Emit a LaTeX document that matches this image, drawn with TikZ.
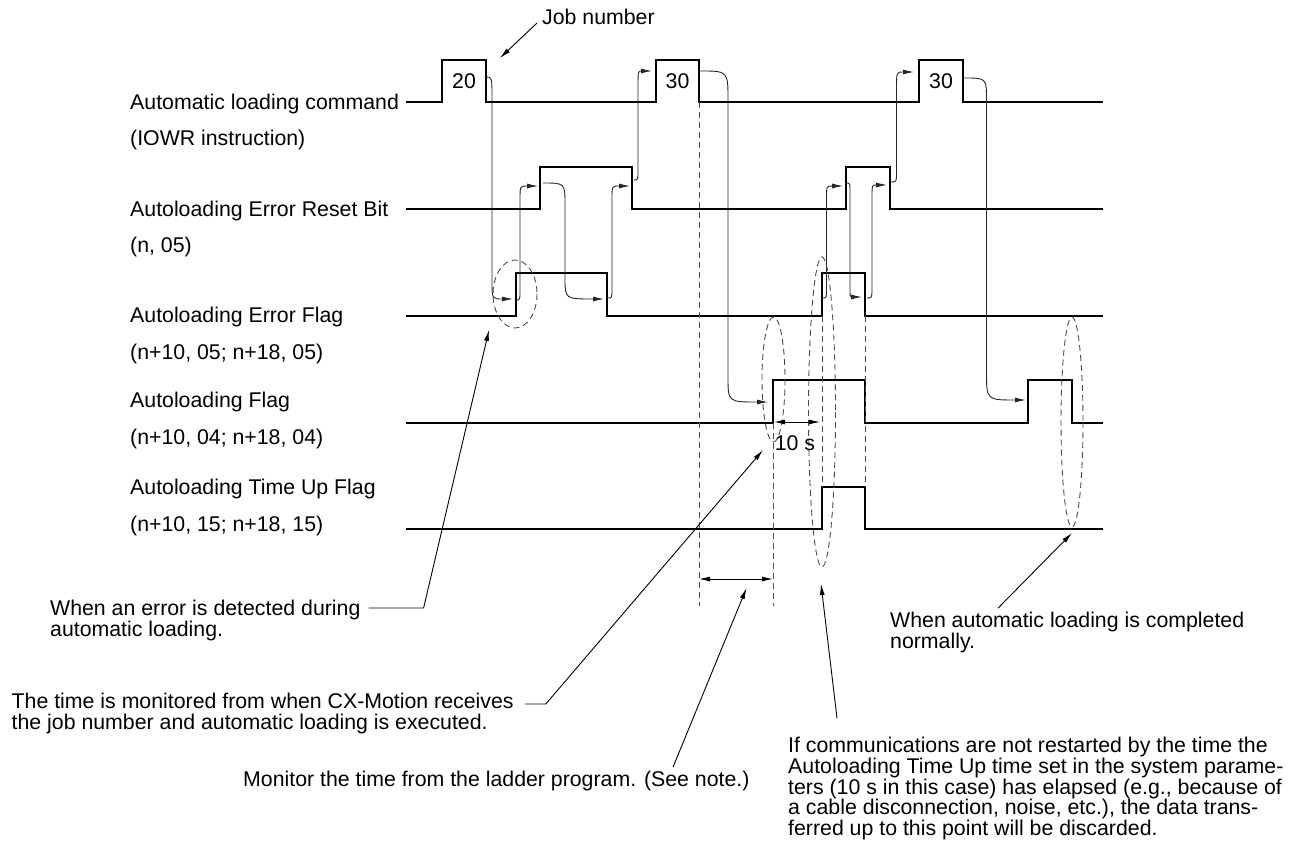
\documentclass[tikz,border=0pt]{standalone}
\usepackage{fontspec}
\setmainfont{Liberation Sans}
\usetikzlibrary{arrows.meta}

\begin{document}
\begin{tikzpicture}[
  x=1pt,y=-1pt,
  >={Latex[length=11pt,width=5pt]},
  sig/.style={line width=2.2pt,line join=miter},
  flow/.style={->,line width=0.9pt,black!85},
  guide/.style={dash pattern=on 6pt off 4pt,line width=0.9pt,black!70},
  lead/.style={->,line width=0.9pt},
  lbl/.style={anchor=west,inner sep=0pt,text height=15.3pt,text depth=0pt,
              font=\fontsize{21.3pt}{21.3pt}\selectfont}]

\useasboundingbox (0,0) rectangle (1295,848);

%============================ signal names ============================
\node[lbl] (cmd)     at (130,102) {Automatic loading command};
\node[lbl] (cmdsub)  at (130,138) {(IOWR instruction)};
\node[lbl] (rst)     at (130,209) {Autoloading Error Reset Bit};
\node[lbl] (rstsub)  at (130,245) {(n, 05)};
\node[lbl] (err)     at (130,315) {Autoloading Error Flag};
\node[lbl] (errsub)  at (130,352) {(n+10, 05; n+18, 05)};
\node[lbl] (load)    at (130,400) {Autoloading Flag};
\node[lbl] (loadsub) at (130,437) {(n+10, 04; n+18, 04)};
\node[lbl] (tup)     at (130,487) {Autoloading Time Up Flag};
\node[lbl] (tupsub)  at (130,524) {(n+10, 15; n+18, 15)};

%============================ traces ============================
\draw[sig] (406,102) -| (442,60) -| (486,102) -| (656,60) -| (699,102)
           -| (919,60) -| (963,102) -- (1103,102);
\draw[sig] (406,209) -| (540,167) -| (632,209) -| (846,167) -| (890,209) -- (1103,209);
\draw[sig] (406,316) -| (516,273) -| (607,316) -| (822,273) -| (865,316) -- (1103,316);
\draw[sig] (406,423) -| (773,380) -| (865,423) -| (1028,380) -| (1072,423) -- (1103,423);
\draw[sig] (406,529) -| (822,487) -| (865,529) -- (1103,529);

% job numbers inside the command pulses
\node[lbl,anchor=center] (job1) at (464,81) {20};
\node[lbl,anchor=center] (job2) at (677.5,81) {30};
\node[lbl,anchor=center] (job3) at (941,81) {30};

% --- cause -> effect arrows (start / bend / bend / tip) ---
\foreach \sx/\sy/\vx/\ay/\by/\ex/\ey in {
    486/77/492/100/280/513/299,
    516/300/520/290/200/538/186,
    543/183/565/205/278/604/299,
    608/298/612/288/198/630/186,
    634/180/638/170/88/652/71,
    700/71/728/100/377/768/402,
    823/298/826.5/288/198/843/186,
    847/183/850/195/286/862/297,
    867/298/872/288/196/887/185,
    891/182/896.5/172/88/914/72,
    964/78/986.5/100/372/1026/400}
  \draw[flow] (\sx,\sy) .. controls (\vx,\sy) .. (\vx,\ay) -- (\vx,\by)
              .. controls (\vx,\ey) .. (\ex,\ey);

% --- guide lines and rings ---
\draw[guide] (699,102) -- (699,606);
\draw[guide] (773,423) -- (773,606);
\draw[guide] (822,316) -- (822,487);
\draw[guide] (865,316) -- (865,487);
\draw[guide] (515,294) ellipse [x radius=22,y radius=34];
\draw[guide] (773.5,379.5) ellipse [x radius=11.5,y radius=62.5];
\draw[guide] (822,412) ellipse [x radius=13.5,y radius=155];
\draw[guide] (1072,422) ellipse [x radius=11,y radius=105];

% time spans
\draw[<->,line width=0.9pt] (774,422) -- (820,422);
\node[lbl,anchor=center] (tensec) at (795,443) {10 s};
\draw[<->,line width=0.9pt] (699,579) -- (773,579);

%============================ notes ============================
\node[lbl] (jobnum) at (542,17) {Job number};
\coordinate (jobtip) at (500,58);
\draw[lead] ([shift={(-5,6)}]jobnum.west) -- (jobtip);

\node[lbl] (errA) at (50,608) {When an error is detected during};
\node[lbl] (errB) at ([yshift=-21.3pt]errA.west) {automatic loading.};
\coordinate (errtip) at (489,330);
\draw[lead] ([xshift=8pt]errA.east) -- ++(55,0) -- (errtip);

\node[lbl] (timeA) at (11.5,701) {The time is monitored from when CX-Motion receives};
\node[lbl] (timeB) at ([yshift=-21.3pt]timeA.west) {the job number and automatic loading is executed.};
\coordinate (timetip) at (763,450);
\draw[lead] ([shift={(11,3)}]timeA.east) -- ++(21,0) -- (timetip);

\node[lbl] (mon) at (243,779) {Monitor the time from the ladder program. (See note.)};
\coordinate (montip) at (746.5,588);
\draw[lead] ([shift={(430,-4)}]mon.north west) -- (montip);

\foreach \i/\txt in {0/{If communications are not restarted by the time the},
                     1/{Autoloading Time Up time set in the system parame-},
                     2/{ters (10 s in this case) has elapsed (e.g., because of},
                     3/{a cable disconnection, noise, etc.), the data trans-},
                     4/{ferred up to this point will be discarded.}}
  \node[lbl] (comm\i) at (788,{745+20.7*\i}) {\txt};
\coordinate (commtip) at (821,584);
\draw[lead] ([shift={(49,-19)}]comm0.north west) -- (commtip);

\node[lbl] (doneA) at (890,620) {When automatic loading is completed};
\node[lbl] (doneB) at ([yshift=-21.3pt]doneA.west) {normally.};
\coordinate (donetip) at (1072,533);
\draw[lead] ([shift={(108,-4)}]doneA.north west) -- (donetip);

\end{tikzpicture}
\end{document}
